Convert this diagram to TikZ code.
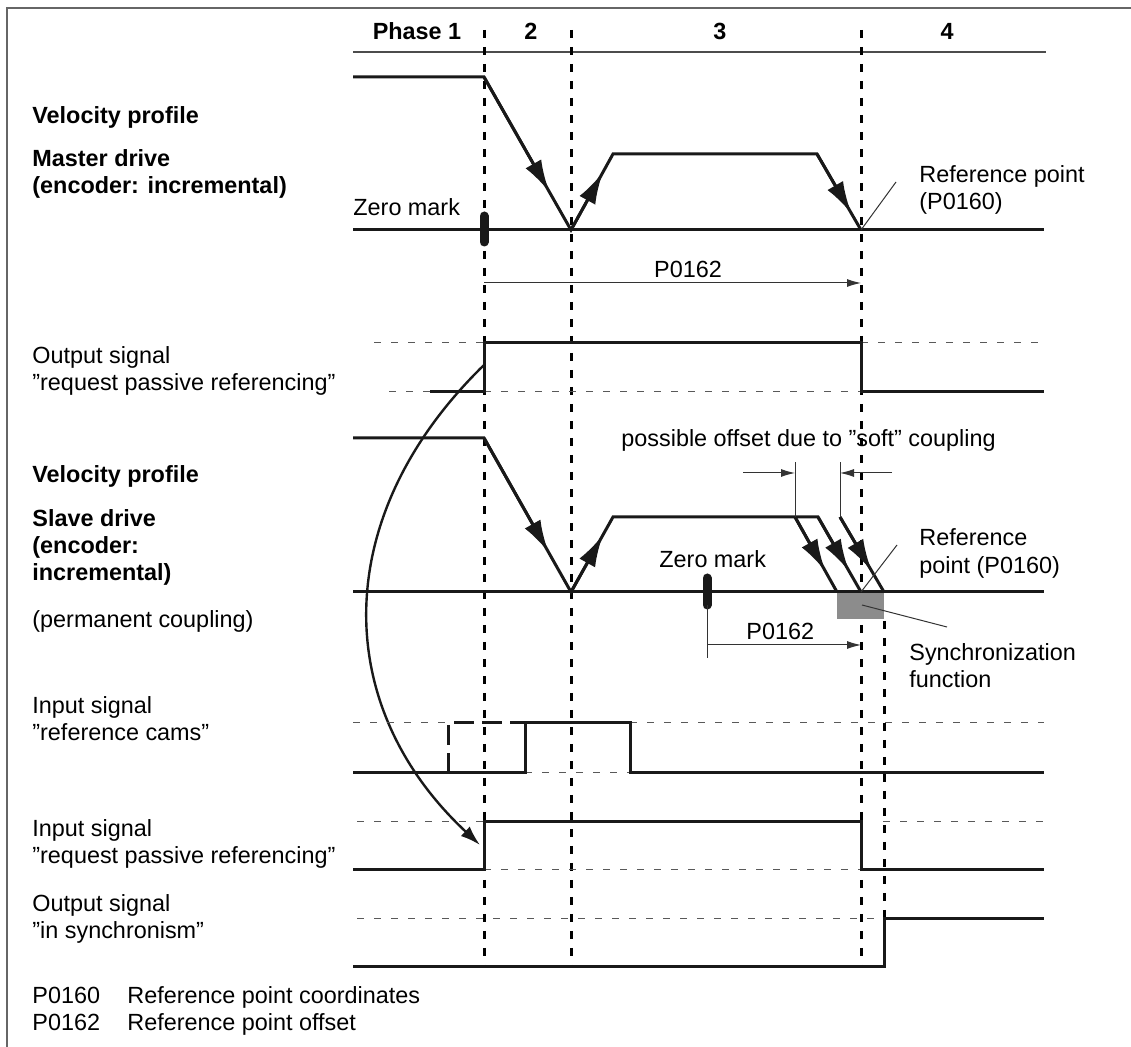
\documentclass[tikz,border=0pt]{standalone}
\usepackage{fontspec}
\setmainfont{Liberation Sans}
\usepackage{tikz}
\usetikzlibrary{arrows.meta, calc, positioning}

\newcommand{\diagfont}{\fontsize{11.7}{13.5}\selectfont}

\tikzset{
    every node/.style={font=\diagfont, inner sep=0pt},
    txt/.style={anchor=base west},
    bold/.style={anchor=base west, font=\diagfont\bfseries},
    head/.style={anchor=base, font=\diagfont\bfseries},
    frameline/.style={black!60, line width=1pt},
    phase/.style={black, line width=1.5pt, dash pattern=on 4pt off 4.5pt},
    guide/.style={black!65, line width=0.5pt, dash pattern=on 3.5pt off 5pt},
    sig/.style={black!90, line width=1.5pt},
    leader/.style={black!80, line width=0.5pt},
    velarrow/.style={sig, -{Latex[length=16pt,width=9pt]}},
    dimarrow/.style={leader, -{Latex[length=7pt,width=4pt]}},
    zeromark/.style={black!90, line width=4.5pt, line cap=round}
}

\begin{document}
\begin{tikzpicture}[x=0.5pt, y=-0.5pt]
    \useasboundingbox (0,0) rectangle (1131,1047);

    % Frame
    \draw[frameline] (7,1047) -- (7,8) -- (1131,8);

    % Phase header
    \draw[black!70, line width=1pt] (353,52) -- (1046,52);
    \node[head] (ph1) at (417,40) {Phase 1};
    \node[head] (ph2) at (531,40) {2};
    \node[head] (ph3) at (720,40) {3};
    \node[head] (ph4) at (947,40) {4};

    % Phase boundaries
    \foreach \x in {484, 571, 861}
        \draw[phase] (\x,30) -- (\x,967);
    \draw[phase] (884,621) -- (884,967);

    % Master velocity profile
    \coordinate (M0) at (353,77);
    \coordinate (M1) at (484,77);
    \coordinate (M2) at (571,230);
    \coordinate (M3) at (613,154);
    \coordinate (M4) at (817,154);
    \coordinate (M5) at (861,230);
    \draw[sig] (M0) -- (M1) -- (M2) -- (M3) -- (M4) -- (M5);
    \draw[velarrow] (M1) -- ($(M1)!0.75!(M2)$);
    \draw[velarrow] (M2) -- ($(M2)!0.76!(M3)$);
    \draw[velarrow] (M4) -- ($(M4)!0.78!(M5)$);
    \draw[sig] (353,230) -- (1044,230);

    % Master zero mark and reference point
    \draw[zeromark] (484,216) -- (484,242);
    \node[txt] (zm1) at (353,216) {Zero mark};
    \node[txt] (rp1) at (919,183) {Reference point};
    \node[txt] (rp1b) at (919,210) {(P0160)};
    \coordinate (RP1) at (896,182);
    \draw[leader] (M5) -- (RP1);

    % Master offset
    \coordinate (D1) at (484,283);
    \coordinate (D2) at (861,283);
    \draw[dimarrow] (D1) -- (D2);
    \node[anchor=base] (off1) at (688,278) {P0162};

    % Output signal "request passive referencing"
    \draw[guide] (374,343) -- (484,343);
    \draw[guide] (861,343) -- (1044,343);
    \draw[guide] (389,392) -- (430,392);
    \draw[guide] (484,392) -- (861,392);
    \draw[sig] (430,392) -- (484,392) -- (484,343) -- (861,343) -- (861,392) -- (1044,392);

    % Request passes from master to slave
    \coordinate (Q1) at (484,365);
    \coordinate (Q2) at (480,845);
    \draw[sig, line width=1.2pt, -{Latex[length=10pt,width=6.5pt]}] (Q1) .. controls (330,515) and (330,705) .. (Q2);

    % Synchronization window
    \fill[black!45] (837,592) rectangle (884,619);
    \coordinate (SB) at (862,605);

    % Slave velocity profile
    \coordinate (S0) at (353,438);
    \coordinate (S1) at (484,438);
    \coordinate (S2) at (571,592);
    \coordinate (S3) at (613,517);
    \coordinate (S4) at (818,517);
    \coordinate (S5) at (861,592);
    \coordinate (A1) at (795,517);
    \coordinate (A2) at (837,592);
    \coordinate (B1) at (840,517);
    \coordinate (B2) at (884,592);
    \draw[sig] (S0) -- (S1) -- (S2) -- (S3) -- (S4) -- (S5);
    \draw[sig] (A1) -- (A2);
    \draw[sig] (B1) -- (B2);
    \draw[velarrow] (S1) -- ($(S1)!0.74!(S2)$);
    \draw[velarrow] (S2) -- ($(S2)!0.76!(S3)$);
    \draw[velarrow] (A1) -- ($(A1)!0.72!(A2)$);
    \draw[velarrow] (S4) -- ($(S4)!0.72!(S5)$);
    \draw[velarrow] (B1) -- ($(B1)!0.72!(B2)$);
    \draw[sig] (353,592) -- (1044,592);

    % Soft coupling offset
    \node[txt] (soft) at (621,447) {possible offset due to ”soft” coupling};
    \draw[leader] (A1) -- (795,462);
    \draw[leader] (B1) -- (840,462);
    \draw[dimarrow] (743,473) -- (795,473);
    \draw[dimarrow] (892,473) -- (840,473);

    % Slave zero mark, reference point, offset
    \draw[zeromark] (707,578) -- (707,605);
    \node[txt] (zm2) at (659,568) {Zero mark};
    \node[txt] (rp2) at (919,546) {Reference};
    \node[txt] (rp2b) at (919,574) {point (P0160)};
    \coordinate (RP2) at (897,545);
    \draw[leader] (S5) -- (RP2);
    \draw[leader] (707,605) -- (707,658);
    \draw[dimarrow] (707,645) -- (861,645);
    \node[txt] (off2) at (746,640) {P0162};
    \node[txt] (sync) at (909,661) {Synchronization};
    \node[txt] (syncb) at (909,688) {function};
    \coordinate (SL) at (947,627);
    \draw[leader] (SB) -- (SL);

    % Input signal "reference cams"
    \draw[guide] (353,723) -- (448,723);
    \draw[guide] (630,723) -- (1044,723);
    \draw[guide] (525,773) -- (630,773);
    \draw[sig, dash pattern=on 10pt off 4pt] (448,773) -- (448,723) -- (525,723);
    \draw[sig] (353,773) -- (525,773) -- (525,723) -- (630,723) -- (630,773) -- (1044,773);

    % Input signal "request passive referencing"
    \draw[guide] (357,822) -- (484,822);
    \draw[guide] (883,822) -- (1044,822);
    \draw[guide] (484,870) -- (861,870);
    \draw[sig] (353,870) -- (484,870) -- (484,822) -- (861,822) -- (861,870) -- (1044,870);

    % Output signal "in synchronism"
    \draw[guide] (357,919) -- (883,919);
    \draw[sig] (353,967) -- (884,967) -- (884,919) -- (1044,919);

    % Left labels
    \node[bold] (vp1) at (32,124) {Velocity profile};
    \node[bold] (md1) at (32,167) {Master drive};
    \node[bold] (md2) at (32,194) {(encoder: incremental)};
    \node[txt] (os1) at (32,364) {Output signal};
    \node[txt] (os2) at (32,391) {”request passive referencing”};
    \node[bold] (vp2) at (32,483) {Velocity profile};
    \node[bold] (sd1) at (32,527) {Slave drive};
    \node[bold] (sd2) at (32,554) {(encoder:};
    \node[bold] (sd3) at (32,581) {incremental)};
    \node[txt] (pc) at (32,628) {(permanent coupling)};
    \node[txt] (is1) at (32,714) {Input signal};
    \node[txt] (is2) at (32,741) {”reference cams”};
    \node[txt] (ir1) at (32,837) {Input signal};
    \node[txt] (ir2) at (32,864) {”request passive referencing”};
    \node[txt] (sy1) at (32,912) {Output signal};
    \node[txt] (sy2) at (32,939) {”in synchronism”};

    % Legend
    \node[txt] (lg1) at (32,1003) {P0160};
    \node[txt] (lg1b) at (127,1003) {Reference point coordinates};
    \node[txt] (lg2) at (32,1030) {P0162};
    \node[txt] (lg2b) at (127,1030) {Reference point offset};
\end{tikzpicture}
\end{document}
